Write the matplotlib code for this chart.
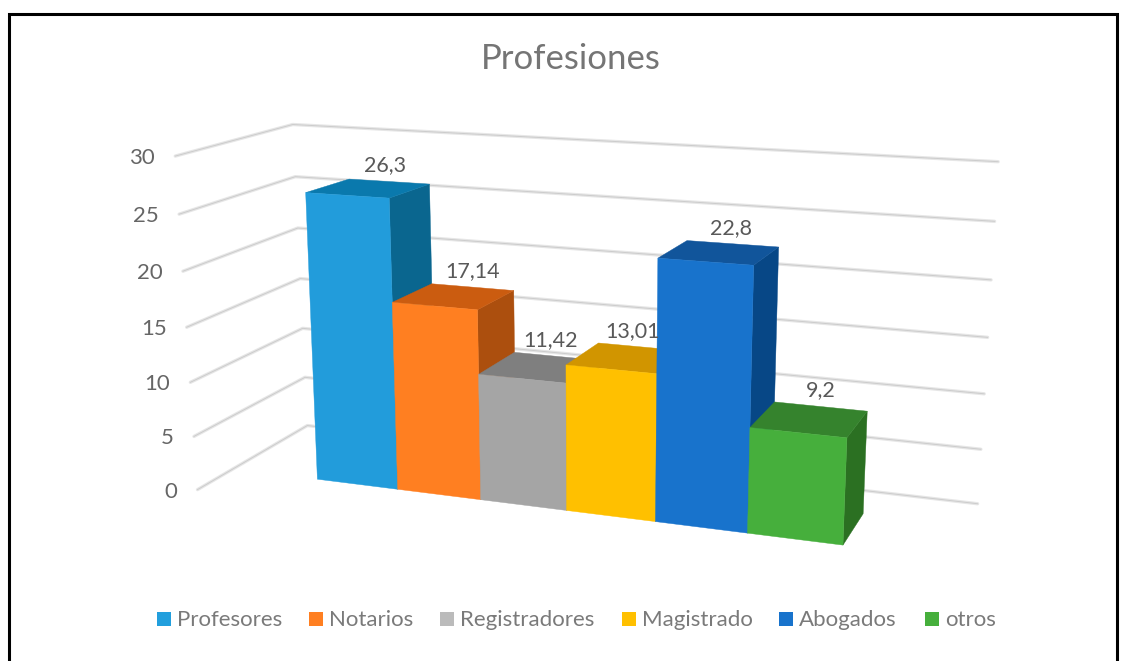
import numpy as np
import matplotlib
matplotlib.use('Agg')
import matplotlib.pyplot as plt
from matplotlib.patches import Polygon, Rectangle

plt.rcParams['font.family'] = ['Lato', 'DejaVu Sans']

title = 'Profesiones'
categories = ['Profesores', 'Notarios', 'Registradores', 'Magistrado', 'Abogados', 'otros']
values = [26.3, 17.14, 11.42, 13.01, 22.8, 9.2]
value_labels = ['26,3', '17,14', '11,42', '13,01', '22,8', '9,2']
y_ticks = [0, 5, 10, 15, 20, 25, 30]

front_colors = ['#229CDB', '#FF7F21', '#A5A5A5', '#FFC000', '#1873CC', '#46AF3C']
top_colors = ['#0A79AD', '#CB5C10', '#7F7F7F', '#D19500', '#11559B', '#35832D']
side_colors = ['#0A668F', '#AC4F0E', '#6B6B6B', '#AD7F00', '#074786', '#2B7022']
legend_colors = ['#229FDD', '#FF7F21', '#BBBBBB', '#FFC000', '#1873CC', '#46AF3C']
legend_x = [157, 309, 440, 622, 779, 925]
label_dx = [-4, 0, -6, -9, -1, 0]

# walls: x 0..1, z 0 front..1 back. grid ends
wall_calib = [
    ((0, 30, 0), (177, 156)), ((0, 25, 0), (179, 214)), ((0, 20, 0), (183, 271)),
    ((0, 15, 0), (187, 327)), ((0, 10, 0), (190, 383)), ((0, 5, 0), (193, 437)),
    ((0, 0, 0), (197, 489)),
    ((0, 30, 1), (292, 124)), ((0, 25, 1), (293, 178)), ((0, 20, 1), (298, 227)),
    ((0, 15, 1), (302, 279)), ((0, 10, 1), (303, 328)), ((0, 5, 1), (305, 378)),
    ((0, 0, 1), (308, 425)),
    ((1, 30, 1), (998, 162)), ((1, 25, 1), (994, 221)), ((1, 20, 1), (992, 280)),
    ((1, 15, 1), (988, 337)), ((1, 10, 1), (984, 394)), ((1, 5, 1), (981, 449)),
    ((1, 0, 1), (977, 504)),
]

# bars: x 0..6, z 0 front..1 back
bar_calib = [
    ((0, 0, 0), (317, 479)), ((1, 0, 0), (397, 489)), ((2, 0, 0), (481, 499)),
    ((3, 0, 0), (567, 511)), ((4, 0, 0), (656, 522)), ((5, 0, 0), (747, 533)),
    ((6, 0, 0), (843, 545)), ((6, 0, 1), (863, 513)),
    ((0, 26.3, 0), (305.7, 193)), ((1, 26.3, 0), (389, 198)),
    ((0, 26.3, 1), (350, 179)), ((1, 26.3, 1), (429, 184)),
    ((1, 17.14, 0), (392, 303)), ((2, 17.14, 0), (477, 309)),
    ((1, 17.14, 1), (432, 284)), ((2, 17.14, 1), (513, 290)),
    ((2, 11.42, 0), (480, 375)),
    ((3, 13.01, 0), (566, 365)), ((4, 13.01, 0), (657, 374)), ((3, 13.01, 1), (598, 343)),
    ((4, 22.8, 0), (658, 258)), ((5, 22.8, 0), (753, 265)),
    ((4, 22.8, 1), (687, 240)), ((5, 22.8, 1), (779, 247)),
    ((5, 9.2, 0), (750, 428)), ((6, 9.2, 0), (847, 437)),
    ((5, 9.2, 1), (775, 403)), ((6, 9.2, 1), (867, 412)),
]


def fit_camera(points):
    rows = []
    for (x, y, z), (u, v) in points:
        y = y / 30.0
        u = u / 1000.0
        v = v / 1000.0
        rows.append([x, y, z, 1, 0, 0, 0, 0, -u * x, -u * y, -u * z, -u])
        rows.append([0, 0, 0, 0, x, y, z, 1, -v * x, -v * y, -v * z, -v])
    _, _, vt = np.linalg.svd(np.array(rows, dtype=float))
    return vt[-1].reshape(3, 4)


P_wall = fit_camera(wall_calib)
P_bar = fit_camera(bar_calib)


def project(P, x, y, z):
    p = P @ np.array([x, y / 30.0, z, 1.0])
    return 1000 * p[0] / p[2], 1000 * p[1] / p[2]


fig = plt.figure(figsize=(11.31, 6.61), dpi=100)
ax = fig.add_axes([0, 0, 1, 1])
ax.set_xlim(0, 1131)
ax.set_ylim(661, 0)
ax.axis('off')

# border
ax.plot([9, 9, 1117, 1117], [661, 14, 14, 661], color='black', lw=2.2, solid_joinstyle='miter')

ax.text(571, 59, title, ha='center', va='center', fontsize=25, color='#757575')

# gridlines on the two walls
for t in y_ticks:
    pts = [project(P_wall, 0, t, 0), project(P_wall, 0, t, 1), project(P_wall, 1, t, 1)]
    xs = [p[0] for p in pts]
    ys = [p[1] for p in pts]
    ax.plot(xs, ys, color='#E6E6E6', lw=2.4, solid_capstyle='round', zorder=1)
    ax.plot(xs, ys, color='#CCCCCC', lw=0.7, zorder=1)
    ax.text(xs[0] - 20, ys[0] + 2, str(t), ha='right', va='center', fontsize=16, color='#666666')

# left to right, the next bar covers the side of the one before
for i, val in enumerate(values):
    l, r = i, i + 1
    front = [project(P_bar, l, 0, 0), project(P_bar, r, 0, 0), project(P_bar, r, val, 0), project(P_bar, l, val, 0)]
    top = [project(P_bar, l, val, 0), project(P_bar, r, val, 0), project(P_bar, r, val, 1), project(P_bar, l, val, 1)]
    side = [project(P_bar, r, 0, 0), project(P_bar, r, 0, 1), project(P_bar, r, val, 1), project(P_bar, r, val, 0)]
    z = 2 + i
    ax.add_patch(Polygon(side, closed=True, fc=side_colors[i], ec=side_colors[i], lw=0.3, zorder=z))
    ax.add_patch(Polygon(top, closed=True, fc=top_colors[i], ec=top_colors[i], lw=0.3, zorder=z))
    ax.add_patch(Polygon(front, closed=True, fc=front_colors[i], ec=front_colors[i], lw=0.3, zorder=z))

    lx, ly = project(P_bar, i + 0.5, val, 1)
    ax.text(lx + label_dx[i], ly - 16, value_labels[i], ha='center', va='center', fontsize=15.5, color='#595959', zorder=20)

# legend
for name, c, lx in zip(categories, legend_colors, legend_x):
    ax.add_patch(Rectangle((lx, 612), 14, 14, fc=c, ec='none'))
    ax.text(lx + 20, 620, name, ha='left', va='center', fontsize=16, color='#7A7A7A')

fig.savefig('out.png', dpi=100)
